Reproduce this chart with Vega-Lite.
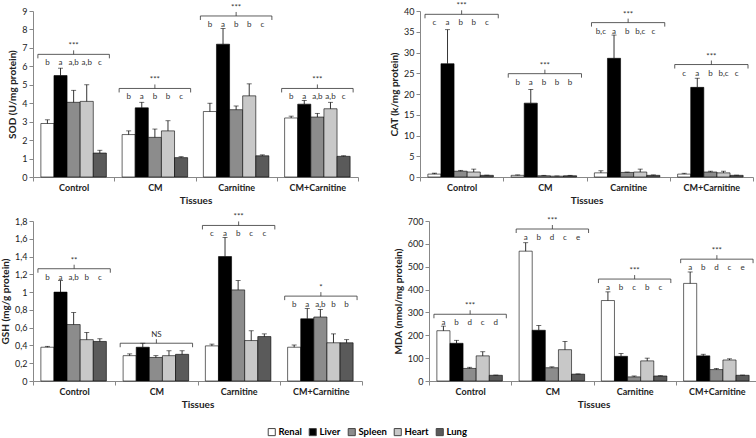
{
"$schema":"https://vega.github.io/schema/vega-lite/v6.json",
"padding":{"left":0,"top":2,"right":2,"bottom":2},
"config":{"font":"Lato","view":{"stroke":null},"concat":{"spacing":30},
 "axis":{"grid":false,"domainColor":"#888","tickColor":"#888","tickSize":4,"labelFontSize":9,"labelColor":"#222","titleFontSize":10,"titleFontWeight":"bold","titleColor":"#222","labelOverlap":false},
 "axisX":{"labelFontWeight":"bold","titlePadding":3},
 "axisY":{"titlePadding":4},
 "legend":{"orient":"none","legendX":234,"legendY":416,"direction":"horizontal","symbolType":"square","symbolSize":50,"symbolStrokeColor":"#444","symbolStrokeWidth":1,"labelFontSize":9.5,"labelFontWeight":"bold","labelOffset":2,"columnPadding":5,"labelLimit":0,"padding":0}
},
"datasets":{
"bars":[
{"p":"SOD","g":"Control","t":"Renal","v":2.9,"u":3.1,"l":"b","k":6.65},
{"p":"SOD","g":"Control","t":"Liver","v":5.5,"u":5.9,"l":"a","k":6.65},
{"p":"SOD","g":"Control","t":"Spleen","v":4.05,"u":4.7,"l":"a,b","k":6.65},
{"p":"SOD","g":"Control","t":"Heart","v":4.1,"u":5.0,"l":"a,b","k":6.65},
{"p":"SOD","g":"Control","t":"Lung","v":1.3,"u":1.45,"l":"c","k":6.65},
{"p":"SOD","g":"CM","t":"Renal","v":2.3,"u":2.5,"l":"b","k":4.8},
{"p":"SOD","g":"CM","t":"Liver","v":3.75,"u":4.05,"l":"a","k":4.8},
{"p":"SOD","g":"CM","t":"Spleen","v":2.15,"u":2.6,"l":"b","k":4.8},
{"p":"SOD","g":"CM","t":"Heart","v":2.5,"u":3.05,"l":"b","k":4.8},
{"p":"SOD","g":"CM","t":"Lung","v":1.05,"u":1.1,"l":"c","k":4.8},
{"p":"SOD","g":"Carnitine","t":"Renal","v":3.55,"u":4.0,"l":"b","k":8.73},
{"p":"SOD","g":"Carnitine","t":"Liver","v":7.2,"u":8.05,"l":"a","k":8.73},
{"p":"SOD","g":"Carnitine","t":"Spleen","v":3.65,"u":3.85,"l":"b","k":8.73},
{"p":"SOD","g":"Carnitine","t":"Heart","v":4.4,"u":5.05,"l":"b","k":8.73},
{"p":"SOD","g":"Carnitine","t":"Lung","v":1.15,"u":1.2,"l":"c","k":8.73},
{"p":"SOD","g":"CM+Carnitine","t":"Renal","v":3.2,"u":3.3,"l":"b","k":4.8},
{"p":"SOD","g":"CM+Carnitine","t":"Liver","v":3.95,"u":4.15,"l":"a","k":4.8},
{"p":"SOD","g":"CM+Carnitine","t":"Spleen","v":3.25,"u":3.45,"l":"a,b","k":4.8},
{"p":"SOD","g":"CM+Carnitine","t":"Heart","v":3.7,"u":4.05,"l":"a,b","k":4.8},
{"p":"SOD","g":"CM+Carnitine","t":"Lung","v":1.12,"u":1.15,"l":"c","k":4.8},
{"p":"CAT","g":"Control","t":"Renal","v":0.7,"u":0.9,"l":"c","k":39.2},
{"p":"CAT","g":"Control","t":"Liver","v":27.3,"u":35.5,"l":"a","k":39.2},
{"p":"CAT","g":"Control","t":"Spleen","v":1.4,"u":1.6,"l":"b","k":39.2},
{"p":"CAT","g":"Control","t":"Heart","v":1.2,"u":1.9,"l":"b","k":39.2},
{"p":"CAT","g":"Control","t":"Lung","v":0.4,"u":0.45,"l":"c","k":39.2},
{"p":"CAT","g":"CM","t":"Renal","v":0.4,"u":0.5,"l":"b","k":24.9},
{"p":"CAT","g":"CM","t":"Liver","v":17.8,"u":21.1,"l":"a","k":24.9},
{"p":"CAT","g":"CM","t":"Spleen","v":0.3,"u":0.4,"l":"b","k":24.9},
{"p":"CAT","g":"CM","t":"Heart","v":0.2,"u":0.25,"l":"b","k":24.9},
{"p":"CAT","g":"CM","t":"Lung","v":0.3,"u":0.4,"l":"b","k":24.9},
{"p":"CAT","g":"Carnitine","t":"Renal","v":1.0,"u":1.5,"l":"b,c","k":37.2},
{"p":"CAT","g":"Carnitine","t":"Liver","v":28.6,"u":34.2,"l":"a","k":37.2},
{"p":"CAT","g":"Carnitine","t":"Spleen","v":1.1,"u":1.2,"l":"b","k":37.2},
{"p":"CAT","g":"Carnitine","t":"Heart","v":1.2,"u":1.9,"l":"b,c","k":37.2},
{"p":"CAT","g":"Carnitine","t":"Lung","v":0.4,"u":0.5,"l":"c","k":37.2},
{"p":"CAT","g":"CM+Carnitine","t":"Renal","v":0.7,"u":0.9,"l":"c","k":27.1},
{"p":"CAT","g":"CM+Carnitine","t":"Liver","v":21.6,"u":23.8,"l":"a","k":27.1},
{"p":"CAT","g":"CM+Carnitine","t":"Spleen","v":1.2,"u":1.4,"l":"b","k":27.1},
{"p":"CAT","g":"CM+Carnitine","t":"Heart","v":1.0,"u":1.4,"l":"b,c","k":27.1},
{"p":"CAT","g":"CM+Carnitine","t":"Lung","v":0.4,"u":0.45,"l":"c","k":27.1},
{"p":"GSH","g":"Control","t":"Renal","v":0.38,"u":0.39,"l":"b","k":1.263},
{"p":"GSH","g":"Control","t":"Liver","v":1.0,"u":1.13,"l":"a","k":1.263},
{"p":"GSH","g":"Control","t":"Spleen","v":0.635,"u":0.77,"l":"a,b","k":1.263},
{"p":"GSH","g":"Control","t":"Heart","v":0.465,"u":0.545,"l":"b","k":1.263},
{"p":"GSH","g":"Control","t":"Lung","v":0.445,"u":0.475,"l":"c","k":1.263},
{"p":"GSH","g":"CM","t":"Renal","v":0.285,"u":0.305,"l":"","k":0.425},
{"p":"GSH","g":"CM","t":"Liver","v":0.38,"u":0.425,"l":"","k":0.425},
{"p":"GSH","g":"CM","t":"Spleen","v":0.265,"u":0.285,"l":"","k":0.425},
{"p":"GSH","g":"CM","t":"Heart","v":0.285,"u":0.34,"l":"","k":0.425},
{"p":"GSH","g":"CM","t":"Lung","v":0.3,"u":0.34,"l":"","k":0.425},
{"p":"GSH","g":"Carnitine","t":"Renal","v":0.395,"u":0.415,"l":"c","k":1.75},
{"p":"GSH","g":"Carnitine","t":"Liver","v":1.4,"u":1.615,"l":"a","k":1.75},
{"p":"GSH","g":"Carnitine","t":"Spleen","v":1.025,"u":1.13,"l":"b","k":1.75},
{"p":"GSH","g":"Carnitine","t":"Heart","v":0.455,"u":0.565,"l":"c","k":1.75},
{"p":"GSH","g":"Carnitine","t":"Lung","v":0.5,"u":0.53,"l":"c","k":1.75},
{"p":"GSH","g":"CM+Carnitine","t":"Renal","v":0.38,"u":0.405,"l":"b","k":0.955},
{"p":"GSH","g":"CM+Carnitine","t":"Liver","v":0.7,"u":0.815,"l":"a","k":0.955},
{"p":"GSH","g":"CM+Carnitine","t":"Spleen","v":0.72,"u":0.805,"l":"a,b","k":0.955},
{"p":"GSH","g":"CM+Carnitine","t":"Heart","v":0.43,"u":0.53,"l":"b","k":0.955},
{"p":"GSH","g":"CM+Carnitine","t":"Lung","v":0.43,"u":0.465,"l":"b","k":0.955},
{"p":"MDA","g":"Control","t":"Renal","v":220,"u":240,"l":"a","k":292},
{"p":"MDA","g":"Control","t":"Liver","v":165,"u":178,"l":"b","k":292},
{"p":"MDA","g":"Control","t":"Spleen","v":55,"u":60,"l":"d","k":292},
{"p":"MDA","g":"Control","t":"Heart","v":110,"u":128,"l":"c","k":292},
{"p":"MDA","g":"Control","t":"Lung","v":25,"u":26,"l":"d","k":292},
{"p":"MDA","g":"CM","t":"Renal","v":568,"u":605,"l":"a","k":665},
{"p":"MDA","g":"CM","t":"Liver","v":222,"u":243,"l":"b","k":665},
{"p":"MDA","g":"CM","t":"Spleen","v":58,"u":62,"l":"d","k":665},
{"p":"MDA","g":"CM","t":"Heart","v":137,"u":173,"l":"c","k":665},
{"p":"MDA","g":"CM","t":"Lung","v":30,"u":31,"l":"e","k":665},
{"p":"MDA","g":"Carnitine","t":"Renal","v":352,"u":390,"l":"a","k":446},
{"p":"MDA","g":"Carnitine","t":"Liver","v":108,"u":120,"l":"b","k":446},
{"p":"MDA","g":"Carnitine","t":"Spleen","v":18,"u":22,"l":"c","k":446},
{"p":"MDA","g":"Carnitine","t":"Heart","v":88,"u":100,"l":"b","k":446},
{"p":"MDA","g":"Carnitine","t":"Lung","v":22,"u":23,"l":"c","k":446},
{"p":"MDA","g":"CM+Carnitine","t":"Renal","v":427,"u":477,"l":"a","k":533},
{"p":"MDA","g":"CM+Carnitine","t":"Liver","v":110,"u":117,"l":"b","k":533},
{"p":"MDA","g":"CM+Carnitine","t":"Spleen","v":50,"u":55,"l":"d","k":533},
{"p":"MDA","g":"CM+Carnitine","t":"Heart","v":92,"u":97,"l":"c","k":533},
{"p":"MDA","g":"CM+Carnitine","t":"Lung","v":25,"u":26,"l":"e","k":533}
],
"brackets":[
{"p":"SOD","g":"Control","k":6.65,"s":"***"},
{"p":"SOD","g":"CM","k":4.8,"s":"***"},
{"p":"SOD","g":"Carnitine","k":8.73,"s":"***"},
{"p":"SOD","g":"CM+Carnitine","k":4.8,"s":"***"},
{"p":"CAT","g":"Control","k":39.2,"s":"***"},
{"p":"CAT","g":"CM","k":24.9,"s":"***"},
{"p":"CAT","g":"Carnitine","k":37.2,"s":"***"},
{"p":"CAT","g":"CM+Carnitine","k":27.1,"s":"***"},
{"p":"GSH","g":"Control","k":1.263,"s":"**"},
{"p":"GSH","g":"CM","k":0.425,"s":"NS"},
{"p":"GSH","g":"Carnitine","k":1.75,"s":"***"},
{"p":"GSH","g":"CM+Carnitine","k":0.955,"s":"*"},
{"p":"MDA","g":"Control","k":292,"s":"***"},
{"p":"MDA","g":"CM","k":665,"s":"***"},
{"p":"MDA","g":"Carnitine","k":446,"s":"***"},
{"p":"MDA","g":"CM+Carnitine","k":533,"s":"***"}
]
},
"vconcat":[
{"hconcat":[
{"width":325,"height":166,
"layer":[
{"data":{"name":"bars"},"transform":[{"filter":"datum.p==='SOD'"}],"mark":{"type":"bar","stroke":"#000","strokeWidth":0.6},
 "encoding":{"x":{"field":"g","type":"nominal","sort":["Control","CM","Carnitine","CM+Carnitine"],"scale":{"paddingInner":0,"paddingOuter":0},"axis":{"title":"Tissues","labelAngle":0,"tickBand":"extent"}},
 "xOffset":{"field":"t","type":"nominal","sort":["Renal","Liver","Spleen","Heart","Lung"],"scale":{"paddingOuter":0.6,"paddingInner":0}},
 "y":{"field":"v","type":"quantitative","scale":{"domain":[0,9],"nice":false},"axis":{"title":"SOD (U/mg protein)","values":[0,1,2,3,4,5,6,7,8,9]}},
 "fill":{"field":"t","type":"nominal","sort":["Renal","Liver","Spleen","Heart","Lung"],"scale":{"domain":["Renal","Liver","Spleen","Heart","Lung"],"range":["#ffffff","#000000","#8c8c8c","#c8c8c8","#5a5a5a"]},"legend":{"title":null}}}},
{"data":{"name":"bars"},"transform":[{"filter":"datum.p==='SOD'"}],"mark":{"type":"rule","color":"#000","strokeWidth":0.8},
 "encoding":{"x":{"field":"g","type":"nominal","sort":["Control","CM","Carnitine","CM+Carnitine"]},"xOffset":{"field":"t","type":"nominal","sort":["Renal","Liver","Spleen","Heart","Lung"]},"y":{"field":"v","type":"quantitative","axis":{"title":"SOD (U/mg protein)","values":[0,1,2,3,4,5,6,7,8,9]}},"y2":{"field":"u"}}},
{"data":{"name":"bars"},"transform":[{"filter":"datum.p==='SOD'"}],"mark":{"type":"tick","orient":"horizontal","size":5,"thickness":0.8,"color":"#000"},
 "encoding":{"x":{"field":"g","type":"nominal","sort":["Control","CM","Carnitine","CM+Carnitine"]},"xOffset":{"field":"t","type":"nominal","sort":["Renal","Liver","Spleen","Heart","Lung"]},"y":{"field":"u","type":"quantitative","axis":{"title":"SOD (U/mg protein)","values":[0,1,2,3,4,5,6,7,8,9]}}}},
{"data":{"name":"bars"},"transform":[{"filter":"datum.p==='SOD'"}],"mark":{"type":"text","dy":9,"fontSize":8,"color":"#333"},
 "encoding":{"x":{"field":"g","type":"nominal","sort":["Control","CM","Carnitine","CM+Carnitine"]},"xOffset":{"field":"t","type":"nominal","sort":["Renal","Liver","Spleen","Heart","Lung"]},"y":{"field":"k","type":"quantitative","axis":{"title":"SOD (U/mg protein)","values":[0,1,2,3,4,5,6,7,8,9]}},"text":{"field":"l"}}},
{"data":{"name":"brackets"},"transform":[{"filter":"datum.p==='SOD'"}],"mark":{"type":"rule","color":"#333","strokeWidth":0.8},
 "encoding":{"x":{"field":"g","type":"nominal","sort":["Control","CM","Carnitine","CM+Carnitine"],"bandPosition":0.06},"x2":{"field":"g","bandPosition":0.94},"y":{"field":"k","type":"quantitative","axis":{"title":"SOD (U/mg protein)","values":[0,1,2,3,4,5,6,7,8,9]}}}},
{"data":{"name":"brackets"},"transform":[{"filter":"datum.p==='SOD'"}],"mark":{"type":"rule","color":"#333","strokeWidth":0.8,"y2Offset":4},
 "encoding":{"x":{"field":"g","type":"nominal","sort":["Control","CM","Carnitine","CM+Carnitine"],"bandPosition":0.06},"y":{"field":"k","type":"quantitative","axis":{"title":"SOD (U/mg protein)","values":[0,1,2,3,4,5,6,7,8,9]}},"y2":{"field":"k"}}},
{"data":{"name":"brackets"},"transform":[{"filter":"datum.p==='SOD'"}],"mark":{"type":"rule","color":"#333","strokeWidth":0.8,"y2Offset":4},
 "encoding":{"x":{"field":"g","type":"nominal","sort":["Control","CM","Carnitine","CM+Carnitine"],"bandPosition":0.94},"y":{"field":"k","type":"quantitative","axis":{"title":"SOD (U/mg protein)","values":[0,1,2,3,4,5,6,7,8,9]}},"y2":{"field":"k"}}},
{"data":{"name":"brackets"},"transform":[{"filter":"datum.p==='SOD'"}],"mark":{"type":"rule","color":"#333","strokeWidth":0.8,"y2Offset":-4},
 "encoding":{"x":{"field":"g","type":"nominal","sort":["Control","CM","Carnitine","CM+Carnitine"]},"y":{"field":"k","type":"quantitative","axis":{"title":"SOD (U/mg protein)","values":[0,1,2,3,4,5,6,7,8,9]}},"y2":{"field":"k"}}},
{"data":{"name":"brackets"},"transform":[{"filter":"datum.p==='SOD'"}],"mark":{"type":"text","dy":-8,"fontSize":8,"color":"#333"},
 "encoding":{"x":{"field":"g","type":"nominal","sort":["Control","CM","Carnitine","CM+Carnitine"]},"y":{"field":"k","type":"quantitative","axis":{"title":"SOD (U/mg protein)","values":[0,1,2,3,4,5,6,7,8,9]}},"text":{"field":"s"}}}
]},
{"width":333,"height":166,
"layer":[
{"data":{"name":"bars"},"transform":[{"filter":"datum.p==='CAT'"}],"mark":{"type":"bar","stroke":"#000","strokeWidth":0.6},
 "encoding":{"x":{"field":"g","type":"nominal","sort":["Control","CM","Carnitine","CM+Carnitine"],"scale":{"paddingInner":0,"paddingOuter":0},"axis":{"title":"Tissues","labelAngle":0,"tickBand":"extent"}},
 "xOffset":{"field":"t","type":"nominal","sort":["Renal","Liver","Spleen","Heart","Lung"],"scale":{"paddingOuter":0.6,"paddingInner":0}},
 "y":{"field":"v","type":"quantitative","scale":{"domain":[0,40],"nice":false},"axis":{"title":"CAT (k/mg protein)","values":[0,5,10,15,20,25,30,35,40]}},
 "fill":{"field":"t","type":"nominal","sort":["Renal","Liver","Spleen","Heart","Lung"],"scale":{"domain":["Renal","Liver","Spleen","Heart","Lung"],"range":["#ffffff","#000000","#8c8c8c","#c8c8c8","#5a5a5a"]},"legend":{"title":null}}}},
{"data":{"name":"bars"},"transform":[{"filter":"datum.p==='CAT'"}],"mark":{"type":"rule","color":"#000","strokeWidth":0.8},
 "encoding":{"x":{"field":"g","type":"nominal","sort":["Control","CM","Carnitine","CM+Carnitine"]},"xOffset":{"field":"t","type":"nominal","sort":["Renal","Liver","Spleen","Heart","Lung"]},"y":{"field":"v","type":"quantitative","axis":{"title":"CAT (k/mg protein)","values":[0,5,10,15,20,25,30,35,40]}},"y2":{"field":"u"}}},
{"data":{"name":"bars"},"transform":[{"filter":"datum.p==='CAT'"}],"mark":{"type":"tick","orient":"horizontal","size":5,"thickness":0.8,"color":"#000"},
 "encoding":{"x":{"field":"g","type":"nominal","sort":["Control","CM","Carnitine","CM+Carnitine"]},"xOffset":{"field":"t","type":"nominal","sort":["Renal","Liver","Spleen","Heart","Lung"]},"y":{"field":"u","type":"quantitative","axis":{"title":"CAT (k/mg protein)","values":[0,5,10,15,20,25,30,35,40]}}}},
{"data":{"name":"bars"},"transform":[{"filter":"datum.p==='CAT'"}],"mark":{"type":"text","dy":9,"fontSize":8,"color":"#333"},
 "encoding":{"x":{"field":"g","type":"nominal","sort":["Control","CM","Carnitine","CM+Carnitine"]},"xOffset":{"field":"t","type":"nominal","sort":["Renal","Liver","Spleen","Heart","Lung"]},"y":{"field":"k","type":"quantitative","axis":{"title":"CAT (k/mg protein)","values":[0,5,10,15,20,25,30,35,40]}},"text":{"field":"l"}}},
{"data":{"name":"brackets"},"transform":[{"filter":"datum.p==='CAT'"}],"mark":{"type":"rule","color":"#333","strokeWidth":0.8},
 "encoding":{"x":{"field":"g","type":"nominal","sort":["Control","CM","Carnitine","CM+Carnitine"],"bandPosition":0.06},"x2":{"field":"g","bandPosition":0.94},"y":{"field":"k","type":"quantitative","axis":{"title":"CAT (k/mg protein)","values":[0,5,10,15,20,25,30,35,40]}}}},
{"data":{"name":"brackets"},"transform":[{"filter":"datum.p==='CAT'"}],"mark":{"type":"rule","color":"#333","strokeWidth":0.8,"y2Offset":4},
 "encoding":{"x":{"field":"g","type":"nominal","sort":["Control","CM","Carnitine","CM+Carnitine"],"bandPosition":0.06},"y":{"field":"k","type":"quantitative","axis":{"title":"CAT (k/mg protein)","values":[0,5,10,15,20,25,30,35,40]}},"y2":{"field":"k"}}},
{"data":{"name":"brackets"},"transform":[{"filter":"datum.p==='CAT'"}],"mark":{"type":"rule","color":"#333","strokeWidth":0.8,"y2Offset":4},
 "encoding":{"x":{"field":"g","type":"nominal","sort":["Control","CM","Carnitine","CM+Carnitine"],"bandPosition":0.94},"y":{"field":"k","type":"quantitative","axis":{"title":"CAT (k/mg protein)","values":[0,5,10,15,20,25,30,35,40]}},"y2":{"field":"k"}}},
{"data":{"name":"brackets"},"transform":[{"filter":"datum.p==='CAT'"}],"mark":{"type":"rule","color":"#333","strokeWidth":0.8,"y2Offset":-4},
 "encoding":{"x":{"field":"g","type":"nominal","sort":["Control","CM","Carnitine","CM+Carnitine"]},"y":{"field":"k","type":"quantitative","axis":{"title":"CAT (k/mg protein)","values":[0,5,10,15,20,25,30,35,40]}},"y2":{"field":"k"}}},
{"data":{"name":"brackets"},"transform":[{"filter":"datum.p==='CAT'"}],"mark":{"type":"text","dy":-8,"fontSize":8,"color":"#333"},
 "encoding":{"x":{"field":"g","type":"nominal","sort":["Control","CM","Carnitine","CM+Carnitine"]},"y":{"field":"k","type":"quantitative","axis":{"title":"CAT (k/mg protein)","values":[0,5,10,15,20,25,30,35,40]}},"text":{"field":"s"}}}
]}
]},
{"hconcat":[
{"width":329,"height":160,
"layer":[
{"data":{"name":"bars"},"transform":[{"filter":"datum.p==='GSH'"}],"mark":{"type":"bar","stroke":"#000","strokeWidth":0.6},
 "encoding":{"x":{"field":"g","type":"nominal","sort":["Control","CM","Carnitine","CM+Carnitine"],"scale":{"paddingInner":0,"paddingOuter":0},"axis":{"title":"Tissues","labelAngle":0,"tickBand":"extent"}},
 "xOffset":{"field":"t","type":"nominal","sort":["Renal","Liver","Spleen","Heart","Lung"],"scale":{"paddingOuter":0.6,"paddingInner":0}},
 "y":{"field":"v","type":"quantitative","scale":{"domain":[0,1.8],"nice":false},"axis":{"title":"GSH (mg/g protein)","values":[0,0.2,0.4,0.6,0.8,1,1.2,1.4,1.6,1.8],"labelExpr":"replace(format(datum.value, '.1~f'), '.', ',')"}},
 "fill":{"field":"t","type":"nominal","sort":["Renal","Liver","Spleen","Heart","Lung"],"scale":{"domain":["Renal","Liver","Spleen","Heart","Lung"],"range":["#ffffff","#000000","#8c8c8c","#c8c8c8","#5a5a5a"]},"legend":{"title":null}}}},
{"data":{"name":"bars"},"transform":[{"filter":"datum.p==='GSH'"}],"mark":{"type":"rule","color":"#000","strokeWidth":0.8},
 "encoding":{"x":{"field":"g","type":"nominal","sort":["Control","CM","Carnitine","CM+Carnitine"]},"xOffset":{"field":"t","type":"nominal","sort":["Renal","Liver","Spleen","Heart","Lung"]},"y":{"field":"v","type":"quantitative","axis":{"title":"GSH (mg/g protein)","values":[0,0.2,0.4,0.6,0.8,1,1.2,1.4,1.6,1.8],"labelExpr":"replace(format(datum.value, '.1~f'), '.', ',')"}},"y2":{"field":"u"}}},
{"data":{"name":"bars"},"transform":[{"filter":"datum.p==='GSH'"}],"mark":{"type":"tick","orient":"horizontal","size":5,"thickness":0.8,"color":"#000"},
 "encoding":{"x":{"field":"g","type":"nominal","sort":["Control","CM","Carnitine","CM+Carnitine"]},"xOffset":{"field":"t","type":"nominal","sort":["Renal","Liver","Spleen","Heart","Lung"]},"y":{"field":"u","type":"quantitative","axis":{"title":"GSH (mg/g protein)","values":[0,0.2,0.4,0.6,0.8,1,1.2,1.4,1.6,1.8],"labelExpr":"replace(format(datum.value, '.1~f'), '.', ',')"}}}},
{"data":{"name":"bars"},"transform":[{"filter":"datum.p==='GSH'"}],"mark":{"type":"text","dy":9,"fontSize":8,"color":"#333"},
 "encoding":{"x":{"field":"g","type":"nominal","sort":["Control","CM","Carnitine","CM+Carnitine"]},"xOffset":{"field":"t","type":"nominal","sort":["Renal","Liver","Spleen","Heart","Lung"]},"y":{"field":"k","type":"quantitative","axis":{"title":"GSH (mg/g protein)","values":[0,0.2,0.4,0.6,0.8,1,1.2,1.4,1.6,1.8],"labelExpr":"replace(format(datum.value, '.1~f'), '.', ',')"}},"text":{"field":"l"}}},
{"data":{"name":"brackets"},"transform":[{"filter":"datum.p==='GSH'"}],"mark":{"type":"rule","color":"#333","strokeWidth":0.8},
 "encoding":{"x":{"field":"g","type":"nominal","sort":["Control","CM","Carnitine","CM+Carnitine"],"bandPosition":0.06},"x2":{"field":"g","bandPosition":0.94},"y":{"field":"k","type":"quantitative","axis":{"title":"GSH (mg/g protein)","values":[0,0.2,0.4,0.6,0.8,1,1.2,1.4,1.6,1.8],"labelExpr":"replace(format(datum.value, '.1~f'), '.', ',')"}}}},
{"data":{"name":"brackets"},"transform":[{"filter":"datum.p==='GSH'"}],"mark":{"type":"rule","color":"#333","strokeWidth":0.8,"y2Offset":4},
 "encoding":{"x":{"field":"g","type":"nominal","sort":["Control","CM","Carnitine","CM+Carnitine"],"bandPosition":0.06},"y":{"field":"k","type":"quantitative","axis":{"title":"GSH (mg/g protein)","values":[0,0.2,0.4,0.6,0.8,1,1.2,1.4,1.6,1.8],"labelExpr":"replace(format(datum.value, '.1~f'), '.', ',')"}},"y2":{"field":"k"}}},
{"data":{"name":"brackets"},"transform":[{"filter":"datum.p==='GSH'"}],"mark":{"type":"rule","color":"#333","strokeWidth":0.8,"y2Offset":4},
 "encoding":{"x":{"field":"g","type":"nominal","sort":["Control","CM","Carnitine","CM+Carnitine"],"bandPosition":0.94},"y":{"field":"k","type":"quantitative","axis":{"title":"GSH (mg/g protein)","values":[0,0.2,0.4,0.6,0.8,1,1.2,1.4,1.6,1.8],"labelExpr":"replace(format(datum.value, '.1~f'), '.', ',')"}},"y2":{"field":"k"}}},
{"data":{"name":"brackets"},"transform":[{"filter":"datum.p==='GSH'"}],"mark":{"type":"rule","color":"#333","strokeWidth":0.8,"y2Offset":-4},
 "encoding":{"x":{"field":"g","type":"nominal","sort":["Control","CM","Carnitine","CM+Carnitine"]},"y":{"field":"k","type":"quantitative","axis":{"title":"GSH (mg/g protein)","values":[0,0.2,0.4,0.6,0.8,1,1.2,1.4,1.6,1.8],"labelExpr":"replace(format(datum.value, '.1~f'), '.', ',')"}},"y2":{"field":"k"}}},
{"data":{"name":"brackets"},"transform":[{"filter":"datum.p==='GSH'"}],"mark":{"type":"text","dy":-8,"fontSize":8,"color":"#333"},
 "encoding":{"x":{"field":"g","type":"nominal","sort":["Control","CM","Carnitine","CM+Carnitine"]},"y":{"field":"k","type":"quantitative","axis":{"title":"GSH (mg/g protein)","values":[0,0.2,0.4,0.6,0.8,1,1.2,1.4,1.6,1.8],"labelExpr":"replace(format(datum.value, '.1~f'), '.', ',')"}},"text":{"field":"s"}}}
]},
{"width":329,"height":160,
"layer":[
{"data":{"name":"bars"},"transform":[{"filter":"datum.p==='MDA'"}],"mark":{"type":"bar","stroke":"#000","strokeWidth":0.6},
 "encoding":{"x":{"field":"g","type":"nominal","sort":["Control","CM","Carnitine","CM+Carnitine"],"scale":{"paddingInner":0,"paddingOuter":0},"axis":{"title":"Tissues","labelAngle":0,"tickBand":"extent"}},
 "xOffset":{"field":"t","type":"nominal","sort":["Renal","Liver","Spleen","Heart","Lung"],"scale":{"paddingOuter":0.6,"paddingInner":0}},
 "y":{"field":"v","type":"quantitative","scale":{"domain":[0,700],"nice":false},"axis":{"title":"MDA (nmol/mg protein)","values":[0,100,200,300,400,500,600,700]}},
 "fill":{"field":"t","type":"nominal","sort":["Renal","Liver","Spleen","Heart","Lung"],"scale":{"domain":["Renal","Liver","Spleen","Heart","Lung"],"range":["#ffffff","#000000","#8c8c8c","#c8c8c8","#5a5a5a"]},"legend":{"title":null}}}},
{"data":{"name":"bars"},"transform":[{"filter":"datum.p==='MDA'"}],"mark":{"type":"rule","color":"#000","strokeWidth":0.8},
 "encoding":{"x":{"field":"g","type":"nominal","sort":["Control","CM","Carnitine","CM+Carnitine"]},"xOffset":{"field":"t","type":"nominal","sort":["Renal","Liver","Spleen","Heart","Lung"]},"y":{"field":"v","type":"quantitative","axis":{"title":"MDA (nmol/mg protein)","values":[0,100,200,300,400,500,600,700]}},"y2":{"field":"u"}}},
{"data":{"name":"bars"},"transform":[{"filter":"datum.p==='MDA'"}],"mark":{"type":"tick","orient":"horizontal","size":5,"thickness":0.8,"color":"#000"},
 "encoding":{"x":{"field":"g","type":"nominal","sort":["Control","CM","Carnitine","CM+Carnitine"]},"xOffset":{"field":"t","type":"nominal","sort":["Renal","Liver","Spleen","Heart","Lung"]},"y":{"field":"u","type":"quantitative","axis":{"title":"MDA (nmol/mg protein)","values":[0,100,200,300,400,500,600,700]}}}},
{"data":{"name":"bars"},"transform":[{"filter":"datum.p==='MDA'"}],"mark":{"type":"text","dy":9,"fontSize":8,"color":"#333"},
 "encoding":{"x":{"field":"g","type":"nominal","sort":["Control","CM","Carnitine","CM+Carnitine"]},"xOffset":{"field":"t","type":"nominal","sort":["Renal","Liver","Spleen","Heart","Lung"]},"y":{"field":"k","type":"quantitative","axis":{"title":"MDA (nmol/mg protein)","values":[0,100,200,300,400,500,600,700]}},"text":{"field":"l"}}},
{"data":{"name":"brackets"},"transform":[{"filter":"datum.p==='MDA'"}],"mark":{"type":"rule","color":"#333","strokeWidth":0.8},
 "encoding":{"x":{"field":"g","type":"nominal","sort":["Control","CM","Carnitine","CM+Carnitine"],"bandPosition":0.06},"x2":{"field":"g","bandPosition":0.94},"y":{"field":"k","type":"quantitative","axis":{"title":"MDA (nmol/mg protein)","values":[0,100,200,300,400,500,600,700]}}}},
{"data":{"name":"brackets"},"transform":[{"filter":"datum.p==='MDA'"}],"mark":{"type":"rule","color":"#333","strokeWidth":0.8,"y2Offset":4},
 "encoding":{"x":{"field":"g","type":"nominal","sort":["Control","CM","Carnitine","CM+Carnitine"],"bandPosition":0.06},"y":{"field":"k","type":"quantitative","axis":{"title":"MDA (nmol/mg protein)","values":[0,100,200,300,400,500,600,700]}},"y2":{"field":"k"}}},
{"data":{"name":"brackets"},"transform":[{"filter":"datum.p==='MDA'"}],"mark":{"type":"rule","color":"#333","strokeWidth":0.8,"y2Offset":4},
 "encoding":{"x":{"field":"g","type":"nominal","sort":["Control","CM","Carnitine","CM+Carnitine"],"bandPosition":0.94},"y":{"field":"k","type":"quantitative","axis":{"title":"MDA (nmol/mg protein)","values":[0,100,200,300,400,500,600,700]}},"y2":{"field":"k"}}},
{"data":{"name":"brackets"},"transform":[{"filter":"datum.p==='MDA'"}],"mark":{"type":"rule","color":"#333","strokeWidth":0.8,"y2Offset":-4},
 "encoding":{"x":{"field":"g","type":"nominal","sort":["Control","CM","Carnitine","CM+Carnitine"]},"y":{"field":"k","type":"quantitative","axis":{"title":"MDA (nmol/mg protein)","values":[0,100,200,300,400,500,600,700]}},"y2":{"field":"k"}}},
{"data":{"name":"brackets"},"transform":[{"filter":"datum.p==='MDA'"}],"mark":{"type":"text","dy":-8,"fontSize":8,"color":"#333"},
 "encoding":{"x":{"field":"g","type":"nominal","sort":["Control","CM","Carnitine","CM+Carnitine"]},"y":{"field":"k","type":"quantitative","axis":{"title":"MDA (nmol/mg protein)","values":[0,100,200,300,400,500,600,700]}},"text":{"field":"s"}}}
]}
]}
],
"spacing":8
}
